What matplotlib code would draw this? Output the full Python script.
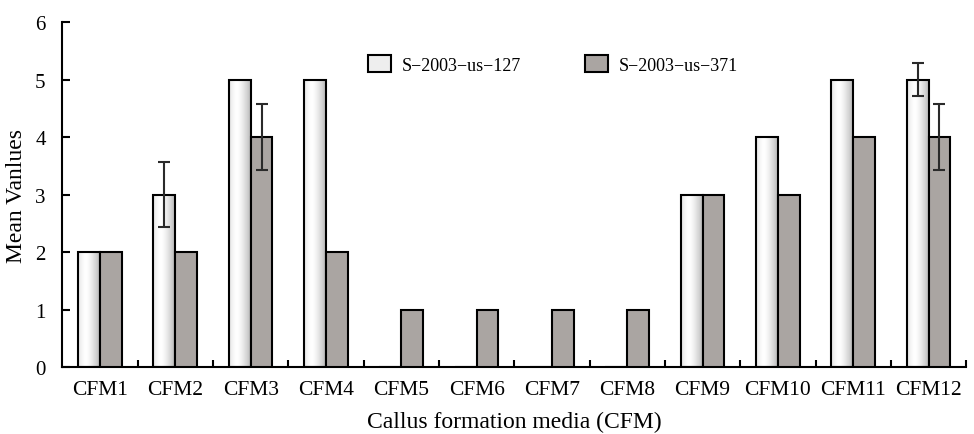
import numpy as np
import matplotlib.pyplot as plt
from matplotlib.patches import Patch

plt.rcParams['font.family'] = ['Liberation Serif', 'DejaVu Serif']

categories = ['CFM1', 'CFM2', 'CFM3', 'CFM4', 'CFM5', 'CFM6', 'CFM7', 'CFM8',
              'CFM9', 'CFM10', 'CFM11', 'CFM12']
s127 = [2, 3, 5, 5, 0, 0, 0, 0, 3, 4, 5, 5]
s371 = [2, 2, 4, 2, 1, 1, 1, 1, 3, 3, 4, 4]
err127 = [0, 0.57, 0, 0, 0, 0, 0, 0, 0, 0, 0, 0.29]
err371 = [0, 0, 0.57, 0, 0, 0, 0, 0, 0, 0, 0, 0.57]

gray = '#aaa5a2'

fig = plt.figure(figsize=(9.74, 4.35), dpi=100)
ax = fig.add_axes([0.064, 0.154, 0.928, 0.793])

x = np.arange(len(categories))
w = 0.29

# horizontal shading for the light bars
grad = np.linspace(0, 1, 64)
shade = 1 - 0.28 * (np.abs(grad - 0.35) / 0.65) ** 1.5
img = np.tile(shade, (2, 1))

bars1 = ax.bar(x - w / 2, s127, w, facecolor='none', edgecolor='black', linewidth=1.5, zorder=3)
for b in bars1:
    if b.get_height() <= 0:
        continue
    x0, y0 = b.get_x(), b.get_y()
    im = ax.imshow(img, cmap='gray', vmin=0, vmax=1, aspect='auto',
                   extent=[x0, x0 + b.get_width(), y0, y0 + b.get_height()], zorder=2)
    im.set_clip_path(b)

ax.bar(x + w / 2, s371, w, color=gray, edgecolor='black', linewidth=1.5, zorder=3)

e1 = np.array(err127)
e2 = np.array(err371)
m1 = e1 > 0
m2 = e2 > 0
ax.errorbar(x[m1] - w / 2, np.array(s127)[m1], yerr=e1[m1], fmt='none', ecolor='#2a2a2a',
            elinewidth=1.5, capsize=4, capthick=1.5, zorder=4)
ax.errorbar(x[m2] + w / 2, np.array(s371)[m2], yerr=e2[m2], fmt='none', ecolor='#2a2a2a',
            elinewidth=1.5, capsize=4, capthick=1.5, zorder=4)

ax.set_xlim(-0.5, len(categories) - 0.5)
ax.set_ylim(0, 6)
ax.set_yticks(range(7))
ax.set_xticks(x)
ax.set_xticklabels(categories)
ax.set_xticks(np.arange(0.5, len(categories) - 0.4, 1), minor=True)
ax.tick_params(axis='x', which='major', length=0, pad=9, labelsize=15.5)
ax.tick_params(axis='x', which='minor', direction='in', length=5, width=1.5)
ax.tick_params(axis='y', direction='in', length=6, width=1.5, labelsize=15, pad=12)

for s in ['top', 'right']:
    ax.spines[s].set_visible(False)
for s in ['left', 'bottom']:
    ax.spines[s].set_linewidth(1.5)

ax.set_ylabel('Mean Vanlues', fontsize=17, labelpad=6)
ax.set_xlabel('Callus formation media (CFM)', fontsize=17, labelpad=9)

handles = [Patch(facecolor='#eeeeee', edgecolor='black', linewidth=1.5, label='S\u22122003\u2212us\u2212127'),
           Patch(facecolor=gray, edgecolor='black', linewidth=1.5, label='S\u22122003\u2212us\u2212371')]
ax.legend(handles=handles, ncol=2, frameon=False, fontsize=13, loc='upper left',
          bbox_to_anchor=(0.32, 0.952), columnspacing=3.5, handlelength=1.3, handleheight=1.1,
          handletextpad=0.6)

fig.savefig('out.png', dpi=100)
